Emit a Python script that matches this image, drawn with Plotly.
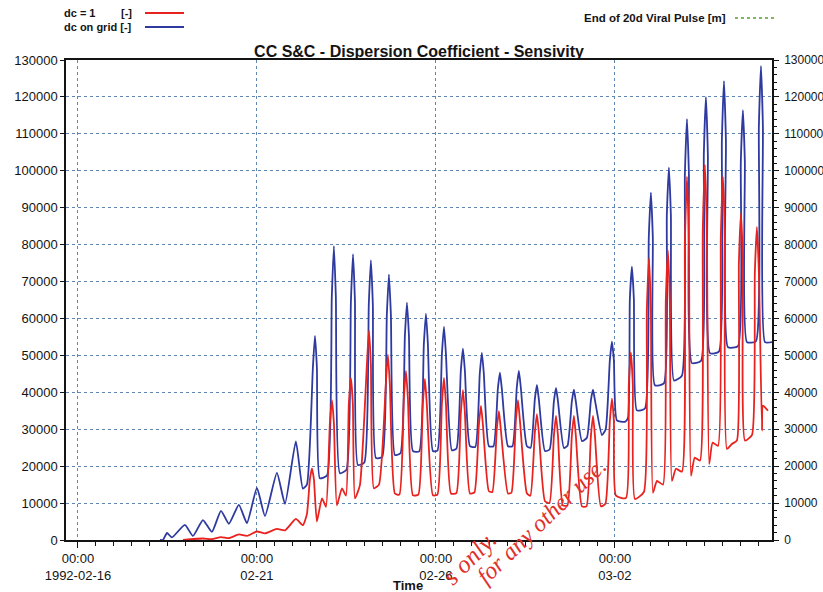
import pandas as pd
import plotly.graph_objects as go

BASE = pd.Timestamp("1992-02-16 00:00")

# "dc on grid [-]" (blue): hours since 1992-02-16 00:00 and values
blue_hours = [55.0, 57.0, 59.7, 63.0, 71.7, 77.1, 83.8, 89.8, 95.9, 101.2, 107.9, 113.3,
              120.0, 125.4, 133.4, 138.8, 146.1, 150.8, 153.5,
              157.5, 158.9, 160.2, 162.2, 167.0, 170.2, 171.6, 172.9, 175.6,
              180.0, 183.0, 184.4, 185.7, 187.7, 192.0, 195.0, 196.4, 197.7, 199.8,
              204.0, 207.1, 208.5, 209.8, 212.5, 216.2, 219.2, 220.6, 221.9, 224.6,
              228.8, 231.9, 233.3, 234.6, 238.0, 241.0, 244.0, 245.4, 246.7, 250.7,
              253.8, 256.7, 258.1, 259.4, 262.8, 266.4, 269.4, 270.8, 272.1, 275.5,
              278.6, 281.5, 282.9, 284.2, 288.3, 291.3, 294.2, 295.6, 296.9, 301.0,
              303.5, 306.3, 307.7, 309.0, 313.1, 316.2, 319.1, 320.5, 321.8, 325.8,
              328.2, 331.1, 332.5, 333.8, 337.9, 341.2, 343.9, 345.3, 346.6, 351.3,
              353.8, 356.6, 358.0, 359.3, 361.3, 366.7, 368.7, 370.0, 371.4, 372.7, 374.7,
              380.1, 382.7, 384.1, 385.4, 386.8, 392.8, 394.8, 396.2, 397.5, 399.6,
              404.9, 406.9, 408.3, 409.6, 411.6, 417.7, 419.6, 421.0, 422.3, 423.7,
              429.7, 431.7, 433.1, 434.4, 435.8, 442.5, 444.4, 445.8, 447.1, 448.5,
              454.5, 456.5, 457.9, 459.2, 460.6, 465.3]
blue_values = [0, 0, 1900, 700, 4100, 1100, 5400, 2200, 7900, 4400, 9500, 4600,
               14100, 6500, 18200, 9800, 26700, 13900, 15000,
               46600, 55300, 46600, 16700, 17500, 66000, 79600, 66000, 18100,
               19000, 64700, 77400, 64700, 20300, 21000, 63900, 75800, 63900, 22200,
               22500, 61100, 71900, 61100, 23000, 23500, 55400, 64300, 55400, 24100,
               24000, 53100, 61300, 53100, 24100, 24200, 50400, 57800, 50400, 24300,
               24800, 45900, 51800, 45900, 25400, 25200, 45100, 50700, 45100, 25400,
               25400, 40900, 45300, 40900, 25400, 25400, 41300, 45800, 41300, 25400,
               25000, 38100, 42000, 38100, 24100, 24500, 37600, 41200, 37600, 24900,
               25500, 37500, 40700, 37500, 26800, 27700, 37900, 40700, 37900, 28400,
               30000, 48700, 53700, 48700, 32400, 32000, 33000, 65200, 74000, 65200, 35100,
               35600, 81900, 94100, 81900, 41900, 42400, 88100, 100900, 88100, 43200,
               44500, 99100, 114000, 99100, 47900, 48500, 104500, 120000, 104500, 50600,
               51000, 108300, 124300, 108300, 52200, 52500, 102500, 116400, 102500, 53600,
               53800, 112000, 128400, 112000, 53600, 53600]

# "dc = 1 [-]" (red)
red_hours = [70.4, 83.8, 89.8, 95.9, 101.2, 107.9, 113.3, 120.0, 125.4, 133.4, 138.8,
             146.1, 150.8, 153.5, 155.5, 156.9, 158.2, 160.2, 163.6, 166.3,
             168.9, 170.3, 171.6, 173.6, 177.0, 179.7, 181.6, 183.0, 184.3, 185.7,
             189.0, 193.7, 195.1, 196.4, 198.4, 201.8, 206.4, 207.8, 209.1, 212.5,
             215.5, 218.5, 219.9, 221.2, 224.6, 228.2, 231.2, 232.6, 233.9, 238.0,
             241.0, 244.0, 245.4, 246.7, 250.1, 253.7, 256.7, 258.1, 259.4, 262.8,
             265.8, 268.8, 270.2, 271.5, 275.5, 277.8, 280.8, 282.2, 283.5, 288.3,
             290.6, 293.6, 295.0, 296.3, 301.0, 303.3, 306.3, 307.7, 309.0, 313.1,
             316.1, 319.1, 320.5, 321.8, 325.1, 328.1, 331.1, 332.5, 333.8, 337.9,
             340.9, 343.9, 345.3, 346.6, 350.6, 353.6, 356.6, 358.0, 359.3, 360.7,
             367.4, 369.3, 370.7, 372.0, 373.4, 379.4, 381.4, 382.8, 384.1, 385.5,
             388.2, 392.2, 394.1, 395.5, 396.8, 398.2, 400.9, 404.9, 406.9, 408.3,
             409.6, 411.0, 413.5, 417.0, 418.9, 420.3, 421.6, 423.2, 425.5, 429.1,
             431.0, 432.4, 433.7, 435.1, 438.4, 441.8, 443.1, 444.5, 445.8, 447.2,
             451.9, 453.8, 455.2, 456.5, 458.6, 459.2, 462.6]
red_values = [0, 400, 200, 800, 500, 1500, 1100, 2300, 1800, 3000, 2600,
              5700, 4000, 7000, 16400, 19400, 16400, 5000, 11300, 9000,
              31600, 37900, 31600, 9400, 14000, 12000, 36800, 43900, 36800, 11300,
              14800, 47400, 56700, 47400, 14000, 15000, 42200, 50200, 42200, 12600,
              12300, 38400, 45800, 38400, 12100, 12300, 36700, 43600, 36700, 12100,
              12300, 37000, 43900, 37000, 12600, 12700, 34500, 40600, 34500, 12600,
              12900, 31200, 36300, 31200, 13200, 13000, 30000, 34900, 30000, 12600,
              12800, 32400, 37900, 32400, 12600, 12000, 29100, 34100, 29100, 10500,
              10000, 28300, 33600, 28300, 9400, 9300, 28200, 33600, 28200, 9100,
              9100, 28200, 33600, 28200, 9100, 9800, 32300, 38300, 32300, 12000,
              11400, 42100, 50800, 42100, 11100, 13000, 62400, 76300, 62400, 12800,
              16000, 15000, 64600, 78500, 64600, 16000, 19300, 18500, 80700, 98400,
              80700, 17400, 22300, 21500, 83900, 101600, 83900, 20600, 26400, 25500,
              82300, 98400, 82300, 24700, 26000, 27000, 75000, 88500, 75000, 26900,
              28500, 72500, 84800, 72500, 29600, 36400, 35000]

x_tickvals = ["1992-02-16", "1992-02-21", "1992-02-26", "1992-03-02"]
x_ticktext = ["00:00<br>1992-02-16", "00:00<br>02-21", "00:00<br>02-26", "00:00<br>03-02"]
x_range = ["1992-02-15 16:00", "1992-03-06 09:18"]
y_range = [0, 130000]

title_text = "CC S&C - Dispersion Coefficient - Sensivity"
red_name = "dc = 1"
blue_name = "dc on grid"
green_name = "End of 20d Viral Pulse [m]"

RED = "#e8231f"
BLUE = "#2e3a9f"
GREEN = "#5aa02c"
GRID = "#5f86b0"
INK = "#141414"
FONT = "Arial, Liberation Sans, sans-serif"

def to_time(hours):
    return BASE + pd.to_timedelta(pd.Series(hours), unit="h")

fig = go.Figure()
fig.add_trace(go.Scatter(x=to_time(blue_hours), y=blue_values, mode="lines",
                         name=blue_name, line=dict(color=BLUE, width=1.8, shape="spline", smoothing=0.5)))
fig.add_trace(go.Scatter(x=to_time(red_hours), y=red_values, mode="lines",
                         name=red_name, line=dict(color=RED, width=1.8, shape="spline", smoothing=0.5)))
fig.add_trace(go.Scatter(x=[None], y=[None], yaxis="y2", name=green_name, mode="lines",
                         line=dict(color=GREEN, dash="dot")))

fig.update_layout(
    width=823, height=592,
    margin=dict(l=66, r=51, t=60, b=52),
    plot_bgcolor="white", paper_bgcolor="white",
    showlegend=False,
    font=dict(family=FONT, size=13, color=INK),
    title=dict(text="<b>" + title_text + "</b>", x=0.5, xref="paper", xanchor="center",
               y=1 - 51 / 592, yanchor="middle", font=dict(size=16, color=INK)),
    xaxis=dict(type="date", range=x_range, tickmode="array", tickvals=x_tickvals,
               ticktext=x_ticktext, showgrid=True, gridcolor=GRID, griddash="dot", gridwidth=1,
               showline=True, linecolor=INK, linewidth=1.5, mirror=True, automargin=False,
               ticks="outside", ticklen=6, tickcolor=INK,
               minor=dict(tick0="1992-02-16", dtick=43200000, ticks="outside", ticklen=4,
                          tickcolor=INK, showgrid=False),
               tickfont=dict(size=13), zeroline=False),
    yaxis=dict(range=y_range, dtick=10000, tickformat="d", showgrid=True, gridcolor=GRID,
               griddash="dot", gridwidth=1, showline=True, linecolor=INK, linewidth=1.5,
               ticks="outside", ticklen=4, tickcolor=INK, zeroline=False, automargin=False,
               tickfont=dict(size=13)),
    yaxis2=dict(range=y_range, dtick=10000, tickformat="d", overlaying="y", side="right",
                showgrid=False, showline=True, linecolor=INK, linewidth=1.5, automargin=False,
                ticks="outside", ticklen=5, tickcolor=INK, zeroline=False,
                minor=dict(dtick=2000, ticks="outside", ticklen=3, tickcolor=INK),
                ticklabelstandoff=3, tickfont=dict(size=12)),
)

def px(x):
    return (x - 66) / 706

def py(y):
    return (540 - y) / 480

ann = [
    dict(text="<b>" + red_name + "</b>", x=px(62), y=py(13), size=11),
    dict(text="<b>[-]</b>", x=px(119), y=py(13), size=11),
    dict(text="<b>" + blue_name + " [-]</b>", x=px(62), y=py(27), size=11),
    dict(text="<b>" + green_name + "</b>", x=px(582), y=py(18), size=11.5),
]
for a in ann:
    fig.add_annotation(xref="paper", yref="paper", xanchor="left", yanchor="middle",
                       showarrow=False, font=dict(size=a["size"], color=INK),
                       text=a["text"], x=a["x"], y=a["y"])

fig.add_annotation(xref="paper", yref="paper", x=px(408), y=py(585), text="<b>Time</b>",
                   showarrow=False, xanchor="center", yanchor="middle", font=dict(size=13))

# watermark (scan overlay)
fig.add_annotation(xref="paper", yref="paper", x=px(470), y=py(593), text="<i>s only.</i>",
                   showarrow=False, textangle=-45,
                   font=dict(family="Liberation Serif, serif", size=25, color="#e0302a"))
fig.add_annotation(xref="paper", yref="paper", x=px(614), y=py(592), text="<i>for any other use.</i>",
                   showarrow=False, textangle=-44,
                   font=dict(family="Liberation Serif, serif", size=24, color="#e0302a"))

fig.add_shape(type="line", xref="paper", yref="paper", x0=px(145), x1=px(184), y0=py(13), y1=py(13),
              line=dict(color=RED, width=2))
fig.add_shape(type="line", xref="paper", yref="paper", x0=px(145), x1=px(184), y0=py(27), y1=py(27),
              line=dict(color=BLUE, width=2))
fig.add_shape(type="line", xref="paper", yref="paper", x0=px(735), x1=px(774), y0=py(18), y1=py(18),
              line=dict(color=GREEN, width=1.5, dash="dot"))

fig.write_html("out.html")
